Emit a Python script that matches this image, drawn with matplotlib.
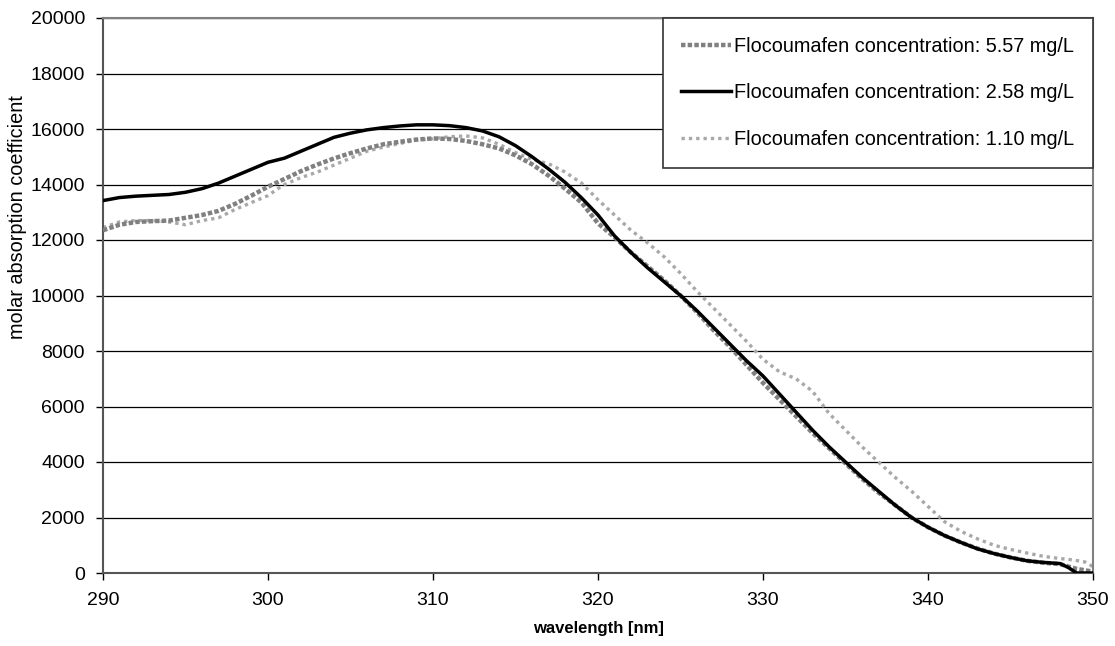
import matplotlib
matplotlib.use("Agg")
import matplotlib.pyplot as plt
import numpy as np

plt.rcParams['font.family'] = ['Liberation Sans', 'DejaVu Sans']

# wavelength grid (nm) and read-off values
wl_a = [290, 291, 292, 293, 294, 295, 296, 297, 298, 299, 300, 301, 302, 303, 304,
        305, 306, 307, 308, 309, 310, 311, 312, 313, 314, 315, 316, 317, 318, 319,
        320, 321, 322, 323, 324, 325, 326, 327, 328, 329, 330, 331, 332, 333, 334,
        335, 336, 337, 338, 339, 340, 341, 342, 343, 344, 345, 346, 347, 348, 349, 350]

conc_557 = [12350, 12550, 12650, 12680, 12700, 12800, 12900, 13050, 13300, 13600,
            13920, 14200, 14480, 14720, 14940, 15130, 15300, 15450, 15540, 15620,
            15660, 15640, 15570, 15450, 15300, 15050, 14730, 14320, 13850, 13350,
            12600, 12100, 11550, 11050, 10550, 10000, 9400, 8750, 8150, 7500,
            6850, 6250, 5650, 5050, 4500, 3950, 3400, 2900, 2450, 2000,
            1650, 1350, 1100, 880, 700, 560, 440, 370, 320, 150, 50]

wl_b = [290, 291, 292, 293, 294, 295, 296, 297, 298, 299, 300, 301, 302, 303, 304,
        305, 306, 307, 308, 309, 310, 311, 312, 313, 314, 315, 316, 317, 318, 319,
        320, 321, 322, 323, 324, 325, 326, 327, 328, 329, 330, 331, 332, 333, 334,
        335, 336, 337, 338, 339, 340, 341, 342, 343, 344, 345, 346, 347, 348, 348.5, 349, 350]

conc_258 = [13420, 13530, 13580, 13610, 13640, 13720, 13850, 14050, 14300, 14550,
            14800, 14950, 15200, 15450, 15700, 15850, 15970, 16050, 16110, 16150,
            16150, 16120, 16050, 15930, 15720, 15400, 15000, 14560, 14080, 13520,
            12900, 12150, 11550, 11000, 10500, 10000, 9450, 8850, 8250, 7650,
            7100, 6450, 5800, 5150, 4550, 4000, 3450, 2950, 2450, 2000,
            1650, 1350, 1100, 870, 700, 560, 440, 380, 340, 200, 0, 0]

wl_c = [290, 291, 292, 293, 294, 295, 296, 297, 298, 299, 300, 300.6, 301, 302, 303, 304,
        305, 306, 307, 308, 309, 310, 311, 312, 313, 314, 315, 316, 317, 318, 319,
        320, 321, 322, 323, 324, 325, 326, 327, 328, 329, 330, 331, 332, 333, 334,
        335, 336, 337, 338, 339, 340, 341, 342, 343, 344, 345, 346, 347, 348, 348.8, 349.5, 350]

conc_110 = [12450, 12650, 12700, 12700, 12650, 12550, 12700, 12800, 13100, 13350,
            13600, 13850, 14000, 14250, 14450, 14700, 14950, 15200, 15350, 15480,
            15600, 15650, 15720, 15750, 15680, 15450, 15150, 14900, 14750, 14450,
            14050, 13450, 12900, 12350, 11900, 11400, 10800, 10150, 9550, 8950,
            8350, 7700, 7250, 7000, 6550, 5750, 5150, 4550, 4000, 3450, 2950,
            2400, 1850, 1500, 1230, 1000, 850, 720, 600, 520, 470, 400, 230]

labels = ["Flocoumafen concentration: 5.57 mg/L",
          "Flocoumafen concentration: 2.58 mg/L",
          "Flocoumafen concentration: 1.10 mg/L"]

x_ticks = [290, 300, 310, 320, 330, 340, 350]
y_ticks = list(range(0, 20001, 2000))

fig = plt.figure(figsize=(11.15, 6.46), dpi=100)
ax = fig.add_axes([103/1115, 1 - 573/646, (1093 - 103)/1115, (573 - 18)/646])

ax.set_xlim(290, 350)
ax.set_ylim(0, 20000)

for y in y_ticks[1:]:
    ax.axhline(y, color='#000000', lw=0.9, zorder=1)

ax.plot(wl_a, conc_557, color='#808080', lw=3.2, linestyle=(0, (1, 0.5)),
        label=labels[0], zorder=3)
ax.plot(wl_b, conc_258, color='#000000', lw=2.5, label=labels[1], zorder=4)
ax.plot(wl_c, conc_110, color='#a8a8a8', lw=2.4, linestyle=(0, (1, 1.2)),
        label=labels[2], zorder=2)

ax.set_xticks(x_ticks)
ax.set_yticks(y_ticks)
ax.tick_params(axis='both', direction='out', length=5, width=1, labelsize=14,
               colors='#000000', pad=8)
ax.tick_params(axis='x', pad=9)

for s in ['left', 'bottom']:
    ax.spines[s].set_color('#555555')
    ax.spines[s].set_linewidth(1.5)
ax.spines['right'].set_color('#808080')
ax.spines['right'].set_linewidth(1.5)
ax.spines['top'].set_color('#808080')
ax.spines['top'].set_linewidth(1.5)

ax.set_xlabel('wavelength [nm]', fontsize=12, fontweight='bold', labelpad=8)
ax.set_ylabel('molar absorption coefficient', fontsize=14.3)
ax.yaxis.set_label_coords(-0.077, 0.641)

leg = ax.legend(loc='upper right', bbox_to_anchor=(1.0, 1.0), borderaxespad=0,
                fontsize=14.3, frameon=True, fancybox=False, shadow=False,
                handlelength=2.5, handletextpad=0.15, labelspacing=1.38,
                borderpad=0.95)
leg.get_frame().set_edgecolor('#333333')
leg.get_frame().set_linewidth(1.2)
leg.get_frame().set_alpha(1)
leg.set_zorder(10)

fig.savefig('out.png', dpi=100)
